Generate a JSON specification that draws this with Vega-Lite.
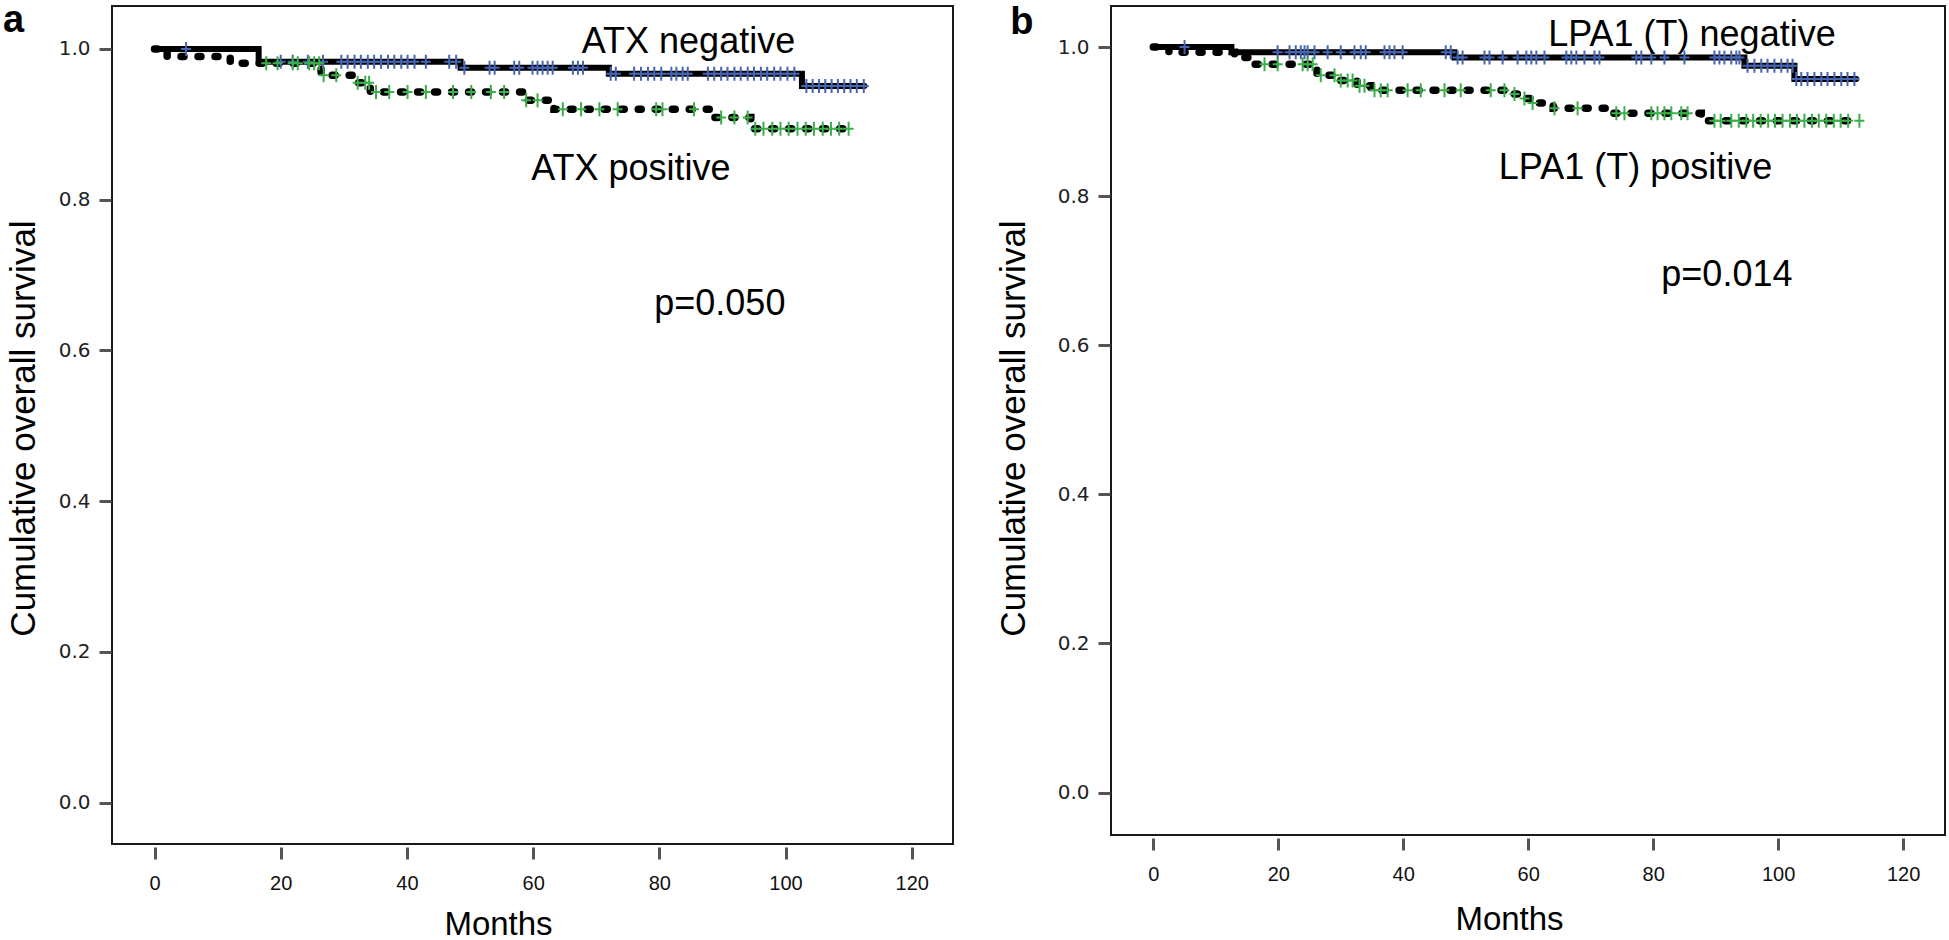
{
  "$schema": "https://vega.github.io/schema/vega-lite/v6.json",
  "autosize": {"type": "pad"},
  "padding": {"left": 2, "top": 0, "right": 0, "bottom": 0},
  "background": "white",
  "bounds": "flush",
  "spacing": 158,
  "config": {
    "view": {"stroke": "#1a1a1a", "strokeWidth": 2},
    "axis": {"grid": false, "domain": false}
  },
  "datasets": {
    "km": [
      {"panel": "a", "group": "negative", "kind": "step", "month": 0, "surv": 1.0},
      {"panel": "a", "group": "negative", "kind": "step", "month": 16.5, "surv": 0.983},
      {"panel": "a", "group": "negative", "kind": "step", "month": 48.5, "surv": 0.975},
      {"panel": "a", "group": "negative", "kind": "step", "month": 72, "surv": 0.967},
      {"panel": "a", "group": "negative", "kind": "step", "month": 102.6, "surv": 0.951},
      {"panel": "a", "group": "negative", "kind": "step", "month": 112.5, "surv": 0.951},
      {"panel": "a", "group": "positive", "kind": "step", "month": 0, "surv": 1.0},
      {"panel": "a", "group": "positive", "kind": "step", "month": 2, "surv": 0.990},
      {"panel": "a", "group": "positive", "kind": "step", "month": 12, "surv": 0.981},
      {"panel": "a", "group": "positive", "kind": "step", "month": 26.4, "surv": 0.965},
      {"panel": "a", "group": "positive", "kind": "step", "month": 32, "surv": 0.955},
      {"panel": "a", "group": "positive", "kind": "step", "month": 34.2, "surv": 0.943},
      {"panel": "a", "group": "positive", "kind": "step", "month": 58.5, "surv": 0.932},
      {"panel": "a", "group": "positive", "kind": "step", "month": 63.3, "surv": 0.920},
      {"panel": "a", "group": "positive", "kind": "step", "month": 88.8, "surv": 0.909},
      {"panel": "a", "group": "positive", "kind": "step", "month": 94.5, "surv": 0.894},
      {"panel": "a", "group": "positive", "kind": "step", "month": 110.5, "surv": 0.894},
      {"panel": "b", "group": "negative", "kind": "step", "month": 0, "surv": 1.0},
      {"panel": "b", "group": "negative", "kind": "step", "month": 12.5, "surv": 0.993},
      {"panel": "b", "group": "negative", "kind": "step", "month": 48.2, "surv": 0.986},
      {"panel": "b", "group": "negative", "kind": "step", "month": 94.6, "surv": 0.975},
      {"panel": "b", "group": "negative", "kind": "step", "month": 102.6, "surv": 0.957},
      {"panel": "b", "group": "negative", "kind": "step", "month": 112.5, "surv": 0.957},
      {"panel": "b", "group": "positive", "kind": "step", "month": 0, "surv": 1.0},
      {"panel": "b", "group": "positive", "kind": "step", "month": 2.5, "surv": 0.993},
      {"panel": "b", "group": "positive", "kind": "step", "month": 13, "surv": 0.986},
      {"panel": "b", "group": "positive", "kind": "step", "month": 15.4, "surv": 0.977},
      {"panel": "b", "group": "positive", "kind": "step", "month": 26.2, "surv": 0.962},
      {"panel": "b", "group": "positive", "kind": "step", "month": 29.7, "surv": 0.955},
      {"panel": "b", "group": "positive", "kind": "step", "month": 32.6, "surv": 0.948},
      {"panel": "b", "group": "positive", "kind": "step", "month": 34.8, "surv": 0.942},
      {"panel": "b", "group": "positive", "kind": "step", "month": 57, "surv": 0.937},
      {"panel": "b", "group": "positive", "kind": "step", "month": 59.2, "surv": 0.931},
      {"panel": "b", "group": "positive", "kind": "step", "month": 60.3, "surv": 0.925},
      {"panel": "b", "group": "positive", "kind": "step", "month": 64, "surv": 0.918},
      {"panel": "b", "group": "positive", "kind": "step", "month": 72.7, "surv": 0.911},
      {"panel": "b", "group": "positive", "kind": "step", "month": 87.7, "surv": 0.901},
      {"panel": "b", "group": "positive", "kind": "step", "month": 113, "surv": 0.901},

      {"panel": "a", "group": "negative", "kind": "censor", "month": 5.0, "surv": 1.0},
      {"panel": "a", "group": "negative", "kind": "censor", "month": 20.0, "surv": 0.983},
      {"panel": "a", "group": "negative", "kind": "censor", "month": 21.9, "surv": 0.983},
      {"panel": "a", "group": "negative", "kind": "censor", "month": 24.3, "surv": 0.983},
      {"panel": "a", "group": "negative", "kind": "censor", "month": 26.7, "surv": 0.983},
      {"panel": "a", "group": "negative", "kind": "censor", "month": 29.6, "surv": 0.983},
      {"panel": "a", "group": "negative", "kind": "censor", "month": 30.6, "surv": 0.983},
      {"panel": "a", "group": "negative", "kind": "censor", "month": 31.7, "surv": 0.983},
      {"panel": "a", "group": "negative", "kind": "censor", "month": 32.7, "surv": 0.983},
      {"panel": "a", "group": "negative", "kind": "censor", "month": 33.8, "surv": 0.983},
      {"panel": "a", "group": "negative", "kind": "censor", "month": 34.8, "surv": 0.983},
      {"panel": "a", "group": "negative", "kind": "censor", "month": 35.9, "surv": 0.983},
      {"panel": "a", "group": "negative", "kind": "censor", "month": 37.0, "surv": 0.983},
      {"panel": "a", "group": "negative", "kind": "censor", "month": 38.0, "surv": 0.983},
      {"panel": "a", "group": "negative", "kind": "censor", "month": 39.1, "surv": 0.983},
      {"panel": "a", "group": "negative", "kind": "censor", "month": 40.1, "surv": 0.983},
      {"panel": "a", "group": "negative", "kind": "censor", "month": 41.2, "surv": 0.983},
      {"panel": "a", "group": "negative", "kind": "censor", "month": 43.0, "surv": 0.983},
      {"panel": "a", "group": "negative", "kind": "censor", "month": 46.7, "surv": 0.983},
      {"panel": "a", "group": "negative", "kind": "censor", "month": 47.8, "surv": 0.983},
      {"panel": "a", "group": "negative", "kind": "censor", "month": 49.1, "surv": 0.975},
      {"panel": "a", "group": "negative", "kind": "censor", "month": 53.1, "surv": 0.975},
      {"panel": "a", "group": "negative", "kind": "censor", "month": 53.9, "surv": 0.975},
      {"panel": "a", "group": "negative", "kind": "censor", "month": 57.0, "surv": 0.975},
      {"panel": "a", "group": "negative", "kind": "censor", "month": 57.8, "surv": 0.975},
      {"panel": "a", "group": "negative", "kind": "censor", "month": 59.9, "surv": 0.975},
      {"panel": "a", "group": "negative", "kind": "censor", "month": 60.7, "surv": 0.975},
      {"panel": "a", "group": "negative", "kind": "censor", "month": 61.5, "surv": 0.975},
      {"panel": "a", "group": "negative", "kind": "censor", "month": 62.3, "surv": 0.975},
      {"panel": "a", "group": "negative", "kind": "censor", "month": 63.1, "surv": 0.975},
      {"panel": "a", "group": "negative", "kind": "censor", "month": 66.3, "surv": 0.975},
      {"panel": "a", "group": "negative", "kind": "censor", "month": 67.1, "surv": 0.975},
      {"panel": "a", "group": "negative", "kind": "censor", "month": 67.9, "surv": 0.975},
      {"panel": "a", "group": "negative", "kind": "censor", "month": 72.3, "surv": 0.967},
      {"panel": "a", "group": "negative", "kind": "censor", "month": 73.1, "surv": 0.967},
      {"panel": "a", "group": "negative", "kind": "censor", "month": 76.0, "surv": 0.967},
      {"panel": "a", "group": "negative", "kind": "censor", "month": 77.1, "surv": 0.967},
      {"panel": "a", "group": "negative", "kind": "censor", "month": 78.2, "surv": 0.967},
      {"panel": "a", "group": "negative", "kind": "censor", "month": 79.2, "surv": 0.967},
      {"panel": "a", "group": "negative", "kind": "censor", "month": 80.3, "surv": 0.967},
      {"panel": "a", "group": "negative", "kind": "censor", "month": 81.9, "surv": 0.967},
      {"panel": "a", "group": "negative", "kind": "censor", "month": 82.7, "surv": 0.967},
      {"panel": "a", "group": "negative", "kind": "censor", "month": 83.7, "surv": 0.967},
      {"panel": "a", "group": "negative", "kind": "censor", "month": 84.5, "surv": 0.967},
      {"panel": "a", "group": "negative", "kind": "censor", "month": 87.7, "surv": 0.967},
      {"panel": "a", "group": "negative", "kind": "censor", "month": 88.7, "surv": 0.967},
      {"panel": "a", "group": "negative", "kind": "censor", "month": 89.8, "surv": 0.967},
      {"panel": "a", "group": "negative", "kind": "censor", "month": 90.8, "surv": 0.967},
      {"panel": "a", "group": "negative", "kind": "censor", "month": 91.9, "surv": 0.967},
      {"panel": "a", "group": "negative", "kind": "censor", "month": 92.9, "surv": 0.967},
      {"panel": "a", "group": "negative", "kind": "censor", "month": 94.0, "surv": 0.967},
      {"panel": "a", "group": "negative", "kind": "censor", "month": 95.0, "surv": 0.967},
      {"panel": "a", "group": "negative", "kind": "censor", "month": 96.1, "surv": 0.967},
      {"panel": "a", "group": "negative", "kind": "censor", "month": 97.1, "surv": 0.967},
      {"panel": "a", "group": "negative", "kind": "censor", "month": 98.2, "surv": 0.967},
      {"panel": "a", "group": "negative", "kind": "censor", "month": 99.2, "surv": 0.967},
      {"panel": "a", "group": "negative", "kind": "censor", "month": 100.3, "surv": 0.967},
      {"panel": "a", "group": "negative", "kind": "censor", "month": 101.4, "surv": 0.967},
      {"panel": "a", "group": "negative", "kind": "censor", "month": 103.3, "surv": 0.951},
      {"panel": "a", "group": "negative", "kind": "censor", "month": 104.3, "surv": 0.951},
      {"panel": "a", "group": "negative", "kind": "censor", "month": 105.3, "surv": 0.951},
      {"panel": "a", "group": "negative", "kind": "censor", "month": 106.3, "surv": 0.951},
      {"panel": "a", "group": "negative", "kind": "censor", "month": 107.3, "surv": 0.951},
      {"panel": "a", "group": "negative", "kind": "censor", "month": 108.3, "surv": 0.951},
      {"panel": "a", "group": "negative", "kind": "censor", "month": 109.3, "surv": 0.951},
      {"panel": "a", "group": "negative", "kind": "censor", "month": 110.3, "surv": 0.951},
      {"panel": "a", "group": "negative", "kind": "censor", "month": 111.3, "surv": 0.951},
      {"panel": "a", "group": "negative", "kind": "censor", "month": 112.4, "surv": 0.951},

      {"panel": "a", "group": "positive", "kind": "censor", "month": 17.7, "surv": 0.981},
      {"panel": "a", "group": "positive", "kind": "censor", "month": 19.5, "surv": 0.981},
      {"panel": "a", "group": "positive", "kind": "censor", "month": 21.9, "surv": 0.981},
      {"panel": "a", "group": "positive", "kind": "censor", "month": 22.7, "surv": 0.981},
      {"panel": "a", "group": "positive", "kind": "censor", "month": 24.5, "surv": 0.981},
      {"panel": "a", "group": "positive", "kind": "censor", "month": 25.3, "surv": 0.981},
      {"panel": "a", "group": "positive", "kind": "censor", "month": 26.1, "surv": 0.981},
      {"panel": "a", "group": "positive", "kind": "censor", "month": 26.8, "surv": 0.965},
      {"panel": "a", "group": "positive", "kind": "censor", "month": 28.8, "surv": 0.965},
      {"panel": "a", "group": "positive", "kind": "censor", "month": 32.2, "surv": 0.955},
      {"panel": "a", "group": "positive", "kind": "censor", "month": 33.4, "surv": 0.955},
      {"panel": "a", "group": "positive", "kind": "censor", "month": 34.0, "surv": 0.955},
      {"panel": "a", "group": "positive", "kind": "censor", "month": 35.1, "surv": 0.943},
      {"panel": "a", "group": "positive", "kind": "censor", "month": 37.2, "surv": 0.943},
      {"panel": "a", "group": "positive", "kind": "censor", "month": 40.1, "surv": 0.943},
      {"panel": "a", "group": "positive", "kind": "censor", "month": 43.0, "surv": 0.943},
      {"panel": "a", "group": "positive", "kind": "censor", "month": 47.3, "surv": 0.943},
      {"panel": "a", "group": "positive", "kind": "censor", "month": 50.2, "surv": 0.943},
      {"panel": "a", "group": "positive", "kind": "censor", "month": 53.3, "surv": 0.943},
      {"panel": "a", "group": "positive", "kind": "censor", "month": 55.4, "surv": 0.943},
      {"panel": "a", "group": "positive", "kind": "censor", "month": 58.9, "surv": 0.932},
      {"panel": "a", "group": "positive", "kind": "censor", "month": 60.7, "surv": 0.932},
      {"panel": "a", "group": "positive", "kind": "censor", "month": 64.7, "surv": 0.920},
      {"panel": "a", "group": "positive", "kind": "censor", "month": 67.6, "surv": 0.920},
      {"panel": "a", "group": "positive", "kind": "censor", "month": 70.5, "surv": 0.920},
      {"panel": "a", "group": "positive", "kind": "censor", "month": 73.4, "surv": 0.920},
      {"panel": "a", "group": "positive", "kind": "censor", "month": 79.5, "surv": 0.920},
      {"panel": "a", "group": "positive", "kind": "censor", "month": 80.5, "surv": 0.920},
      {"panel": "a", "group": "positive", "kind": "censor", "month": 85.5, "surv": 0.920},
      {"panel": "a", "group": "positive", "kind": "censor", "month": 89.8, "surv": 0.909},
      {"panel": "a", "group": "positive", "kind": "censor", "month": 91.9, "surv": 0.909},
      {"panel": "a", "group": "positive", "kind": "censor", "month": 94.0, "surv": 0.909},
      {"panel": "a", "group": "positive", "kind": "censor", "month": 95.2, "surv": 0.894},
      {"panel": "a", "group": "positive", "kind": "censor", "month": 96.5, "surv": 0.894},
      {"panel": "a", "group": "positive", "kind": "censor", "month": 97.9, "surv": 0.894},
      {"panel": "a", "group": "positive", "kind": "censor", "month": 99.2, "surv": 0.894},
      {"panel": "a", "group": "positive", "kind": "censor", "month": 100.5, "surv": 0.894},
      {"panel": "a", "group": "positive", "kind": "censor", "month": 101.9, "surv": 0.894},
      {"panel": "a", "group": "positive", "kind": "censor", "month": 103.2, "surv": 0.894},
      {"panel": "a", "group": "positive", "kind": "censor", "month": 104.5, "surv": 0.894},
      {"panel": "a", "group": "positive", "kind": "censor", "month": 105.9, "surv": 0.894},
      {"panel": "a", "group": "positive", "kind": "censor", "month": 107.2, "surv": 0.894},
      {"panel": "a", "group": "positive", "kind": "censor", "month": 108.5, "surv": 0.894},
      {"panel": "a", "group": "positive", "kind": "censor", "month": 110.0, "surv": 0.894},

      {"panel": "b", "group": "negative", "kind": "censor", "month": 5.0, "surv": 1.0},
      {"panel": "b", "group": "negative", "kind": "censor", "month": 19.9, "surv": 0.993},
      {"panel": "b", "group": "negative", "kind": "censor", "month": 21.8, "surv": 0.993},
      {"panel": "b", "group": "negative", "kind": "censor", "month": 22.8, "surv": 0.993},
      {"panel": "b", "group": "negative", "kind": "censor", "month": 23.6, "surv": 0.993},
      {"panel": "b", "group": "negative", "kind": "censor", "month": 24.2, "surv": 0.993},
      {"panel": "b", "group": "negative", "kind": "censor", "month": 24.7, "surv": 0.993},
      {"panel": "b", "group": "negative", "kind": "censor", "month": 25.8, "surv": 0.993},
      {"panel": "b", "group": "negative", "kind": "censor", "month": 27.9, "surv": 0.993},
      {"panel": "b", "group": "negative", "kind": "censor", "month": 30.0, "surv": 0.993},
      {"panel": "b", "group": "negative", "kind": "censor", "month": 32.2, "surv": 0.993},
      {"panel": "b", "group": "negative", "kind": "censor", "month": 33.2, "surv": 0.993},
      {"panel": "b", "group": "negative", "kind": "censor", "month": 34.0, "surv": 0.993},
      {"panel": "b", "group": "negative", "kind": "censor", "month": 37.0, "surv": 0.993},
      {"panel": "b", "group": "negative", "kind": "censor", "month": 37.8, "surv": 0.993},
      {"panel": "b", "group": "negative", "kind": "censor", "month": 38.6, "surv": 0.993},
      {"panel": "b", "group": "negative", "kind": "censor", "month": 39.9, "surv": 0.993},
      {"panel": "b", "group": "negative", "kind": "censor", "month": 46.8, "surv": 0.993},
      {"panel": "b", "group": "negative", "kind": "censor", "month": 47.6, "surv": 0.993},
      {"panel": "b", "group": "negative", "kind": "censor", "month": 48.7, "surv": 0.986},
      {"panel": "b", "group": "negative", "kind": "censor", "month": 49.5, "surv": 0.986},
      {"panel": "b", "group": "negative", "kind": "censor", "month": 53.0, "surv": 0.986},
      {"panel": "b", "group": "negative", "kind": "censor", "month": 53.8, "surv": 0.986},
      {"panel": "b", "group": "negative", "kind": "censor", "month": 55.9, "surv": 0.986},
      {"panel": "b", "group": "negative", "kind": "censor", "month": 58.3, "surv": 0.986},
      {"panel": "b", "group": "negative", "kind": "censor", "month": 59.7, "surv": 0.986},
      {"panel": "b", "group": "negative", "kind": "censor", "month": 60.5, "surv": 0.986},
      {"panel": "b", "group": "negative", "kind": "censor", "month": 61.3, "surv": 0.986},
      {"panel": "b", "group": "negative", "kind": "censor", "month": 62.6, "surv": 0.986},
      {"panel": "b", "group": "negative", "kind": "censor", "month": 66.1, "surv": 0.986},
      {"panel": "b", "group": "negative", "kind": "censor", "month": 66.9, "surv": 0.986},
      {"panel": "b", "group": "negative", "kind": "censor", "month": 67.7, "surv": 0.986},
      {"panel": "b", "group": "negative", "kind": "censor", "month": 69.0, "surv": 0.986},
      {"panel": "b", "group": "negative", "kind": "censor", "month": 70.6, "surv": 0.986},
      {"panel": "b", "group": "negative", "kind": "censor", "month": 71.4, "surv": 0.986},
      {"panel": "b", "group": "negative", "kind": "censor", "month": 77.3, "surv": 0.986},
      {"panel": "b", "group": "negative", "kind": "censor", "month": 78.1, "surv": 0.986},
      {"panel": "b", "group": "negative", "kind": "censor", "month": 79.7, "surv": 0.986},
      {"panel": "b", "group": "negative", "kind": "censor", "month": 81.8, "surv": 0.986},
      {"panel": "b", "group": "negative", "kind": "censor", "month": 85.0, "surv": 0.986},
      {"panel": "b", "group": "negative", "kind": "censor", "month": 89.8, "surv": 0.986},
      {"panel": "b", "group": "negative", "kind": "censor", "month": 90.6, "surv": 0.986},
      {"panel": "b", "group": "negative", "kind": "censor", "month": 91.4, "surv": 0.986},
      {"panel": "b", "group": "negative", "kind": "censor", "month": 92.5, "surv": 0.986},
      {"panel": "b", "group": "negative", "kind": "censor", "month": 93.3, "surv": 0.986},
      {"panel": "b", "group": "negative", "kind": "censor", "month": 93.8, "surv": 0.986},
      {"panel": "b", "group": "negative", "kind": "censor", "month": 95.1, "surv": 0.975},
      {"panel": "b", "group": "negative", "kind": "censor", "month": 96.2, "surv": 0.975},
      {"panel": "b", "group": "negative", "kind": "censor", "month": 97.3, "surv": 0.975},
      {"panel": "b", "group": "negative", "kind": "censor", "month": 98.3, "surv": 0.975},
      {"panel": "b", "group": "negative", "kind": "censor", "month": 99.4, "surv": 0.975},
      {"panel": "b", "group": "negative", "kind": "censor", "month": 100.5, "surv": 0.975},
      {"panel": "b", "group": "negative", "kind": "censor", "month": 101.5, "surv": 0.975},
      {"panel": "b", "group": "negative", "kind": "censor", "month": 102.3, "surv": 0.975},
      {"panel": "b", "group": "negative", "kind": "censor", "month": 102.9, "surv": 0.957},
      {"panel": "b", "group": "negative", "kind": "censor", "month": 103.7, "surv": 0.957},
      {"panel": "b", "group": "negative", "kind": "censor", "month": 104.7, "surv": 0.957},
      {"panel": "b", "group": "negative", "kind": "censor", "month": 105.8, "surv": 0.957},
      {"panel": "b", "group": "negative", "kind": "censor", "month": 106.9, "surv": 0.957},
      {"panel": "b", "group": "negative", "kind": "censor", "month": 107.9, "surv": 0.957},
      {"panel": "b", "group": "negative", "kind": "censor", "month": 109.0, "surv": 0.957},
      {"panel": "b", "group": "negative", "kind": "censor", "month": 110.1, "surv": 0.957},
      {"panel": "b", "group": "negative", "kind": "censor", "month": 111.1, "surv": 0.957},
      {"panel": "b", "group": "negative", "kind": "censor", "month": 112.2, "surv": 0.957},

      {"panel": "b", "group": "positive", "kind": "censor", "month": 17.8, "surv": 0.977},
      {"panel": "b", "group": "positive", "kind": "censor", "month": 19.9, "surv": 0.977},
      {"panel": "b", "group": "positive", "kind": "censor", "month": 23.9, "surv": 0.977},
      {"panel": "b", "group": "positive", "kind": "censor", "month": 24.7, "surv": 0.977},
      {"panel": "b", "group": "positive", "kind": "censor", "month": 25.5, "surv": 0.977},
      {"panel": "b", "group": "positive", "kind": "censor", "month": 26.8, "surv": 0.962},
      {"panel": "b", "group": "positive", "kind": "censor", "month": 29.0, "surv": 0.962},
      {"panel": "b", "group": "positive", "kind": "censor", "month": 30.0, "surv": 0.955},
      {"panel": "b", "group": "positive", "kind": "censor", "month": 31.1, "surv": 0.955},
      {"panel": "b", "group": "positive", "kind": "censor", "month": 31.9, "surv": 0.955},
      {"panel": "b", "group": "positive", "kind": "censor", "month": 33.0, "surv": 0.948},
      {"panel": "b", "group": "positive", "kind": "censor", "month": 33.8, "surv": 0.948},
      {"panel": "b", "group": "positive", "kind": "censor", "month": 35.4, "surv": 0.942},
      {"panel": "b", "group": "positive", "kind": "censor", "month": 36.4, "surv": 0.942},
      {"panel": "b", "group": "positive", "kind": "censor", "month": 37.5, "surv": 0.942},
      {"panel": "b", "group": "positive", "kind": "censor", "month": 40.7, "surv": 0.942},
      {"panel": "b", "group": "positive", "kind": "censor", "month": 42.8, "surv": 0.942},
      {"panel": "b", "group": "positive", "kind": "censor", "month": 46.6, "surv": 0.942},
      {"panel": "b", "group": "positive", "kind": "censor", "month": 49.2, "surv": 0.942},
      {"panel": "b", "group": "positive", "kind": "censor", "month": 54.0, "surv": 0.942},
      {"panel": "b", "group": "positive", "kind": "censor", "month": 56.2, "surv": 0.942},
      {"panel": "b", "group": "positive", "kind": "censor", "month": 57.8, "surv": 0.937},
      {"panel": "b", "group": "positive", "kind": "censor", "month": 59.4, "surv": 0.931},
      {"panel": "b", "group": "positive", "kind": "censor", "month": 60.7, "surv": 0.925},
      {"panel": "b", "group": "positive", "kind": "censor", "month": 64.2, "surv": 0.918},
      {"panel": "b", "group": "positive", "kind": "censor", "month": 67.9, "surv": 0.918},
      {"panel": "b", "group": "positive", "kind": "censor", "month": 74.1, "surv": 0.911},
      {"panel": "b", "group": "positive", "kind": "censor", "month": 75.4, "surv": 0.911},
      {"panel": "b", "group": "positive", "kind": "censor", "month": 79.7, "surv": 0.911},
      {"panel": "b", "group": "positive", "kind": "censor", "month": 80.7, "surv": 0.911},
      {"panel": "b", "group": "positive", "kind": "censor", "month": 81.8, "surv": 0.911},
      {"panel": "b", "group": "positive", "kind": "censor", "month": 82.9, "surv": 0.911},
      {"panel": "b", "group": "positive", "kind": "censor", "month": 84.5, "surv": 0.911},
      {"panel": "b", "group": "positive", "kind": "censor", "month": 85.5, "surv": 0.911},
      {"panel": "b", "group": "positive", "kind": "censor", "month": 89.8, "surv": 0.901},
      {"panel": "b", "group": "positive", "kind": "censor", "month": 90.8, "surv": 0.901},
      {"panel": "b", "group": "positive", "kind": "censor", "month": 92.5, "surv": 0.901},
      {"panel": "b", "group": "positive", "kind": "censor", "month": 93.7, "surv": 0.901},
      {"panel": "b", "group": "positive", "kind": "censor", "month": 94.9, "surv": 0.901},
      {"panel": "b", "group": "positive", "kind": "censor", "month": 96.0, "surv": 0.901},
      {"panel": "b", "group": "positive", "kind": "censor", "month": 97.2, "surv": 0.901},
      {"panel": "b", "group": "positive", "kind": "censor", "month": 98.4, "surv": 0.901},
      {"panel": "b", "group": "positive", "kind": "censor", "month": 99.5, "surv": 0.901},
      {"panel": "b", "group": "positive", "kind": "censor", "month": 100.7, "surv": 0.901},
      {"panel": "b", "group": "positive", "kind": "censor", "month": 101.9, "surv": 0.901},
      {"panel": "b", "group": "positive", "kind": "censor", "month": 103.0, "surv": 0.901},
      {"panel": "b", "group": "positive", "kind": "censor", "month": 104.2, "surv": 0.901},
      {"panel": "b", "group": "positive", "kind": "censor", "month": 105.4, "surv": 0.901},
      {"panel": "b", "group": "positive", "kind": "censor", "month": 106.5, "surv": 0.901},
      {"panel": "b", "group": "positive", "kind": "censor", "month": 107.7, "surv": 0.901},
      {"panel": "b", "group": "positive", "kind": "censor", "month": 108.9, "surv": 0.901},
      {"panel": "b", "group": "positive", "kind": "censor", "month": 110.0, "surv": 0.901},
      {"panel": "b", "group": "positive", "kind": "censor", "month": 111.2, "surv": 0.901},
      {"panel": "b", "group": "positive", "kind": "censor", "month": 113.0, "surv": 0.901}
    ],
    "notes": [
      {"panel": "a", "label": "ATX negative", "month": 67.7, "surv": 0.995},
      {"panel": "a", "label": "ATX positive", "month": 59.7, "surv": 0.826},
      {"panel": "a", "label": "p=0.050", "month": 79.2, "surv": 0.647},
      {"panel": "b", "label": "LPA1 (T) negative", "month": 63.2, "surv": 1.002},
      {"panel": "b", "label": "LPA1 (T) positive", "month": 55.3, "surv": 0.823},
      {"panel": "b", "label": "p=0.014", "month": 81.3, "surv": 0.679}
    ],
    "letters": [
      {"panel": "a", "label": "a", "month": -24.0, "surv": 1.023},
      {"panel": "b", "label": "b", "month": -22.9, "surv": 1.017}
    ]
  },
  "hconcat": [
    {
      "width": 841,
      "height": 838,
      "layer": [
        {
          "data": {"name": "km"},
          "transform": [{"filter": "datum.panel === 'a' && datum.kind === 'step'"}],
          "mark": {"type": "line", "interpolate": "step-after", "color": "black", "strokeCap": "round"},
          "encoding": {
            "x": {"field": "month", "type": "quantitative", "scale": {"domain": [-6.74, 126.54], "nice": false, "zero": false},
              "axis": {"values": [0, 20, 40, 60, 80, 100, 120], "title": "Months", "titleX": 386, "titleY": 87, "titleBaseline": "alphabetic", "titleAlign": "center", "titleFont": "Liberation Sans", "titleFontSize": 33, "titleFontWeight": "normal", "titleColor": "black", "labelFont": "Liberation Sans", "labelFontSize": 20, "labelColor": "#111", "labelPadding": 14, "labelFlush": false, "labelOverlap": false, "tickSize": 12, "tickWidth": 3, "tickColor": "#555", "offset": 3, "domain": false, "grid": false}},
            "y": {"field": "surv", "type": "quantitative", "scale": {"domain": [-0.055, 1.057], "nice": false, "zero": false},
              "axis": {"values": [0, 0.2, 0.4, 0.6, 0.8, 1.0], "format": ".1f", "title": "Cumulative overall survival", "titleX": -88, "titleY": 422, "titleAngle": -90, "titleBaseline": "middle", "titleAlign": "center", "titleFont": "Liberation Sans", "titleFontSize": 35, "titleFontWeight": "normal", "titleColor": "black", "labelFont": "DejaVu Sans", "labelFontSize": 20, "labelColor": "#222", "labelPadding": 9, "labelFlush": false, "labelOverlap": false, "tickSize": 12, "tickWidth": 3, "tickColor": "#555", "offset": 1, "domain": false, "grid": false}},
            "detail": {"field": "group", "type": "nominal"},
            "strokeDash": {"field": "group", "type": "nominal", "scale": {"domain": ["negative", "positive"], "range": [[1, 0], [3, 14]]}, "legend": null},
            "strokeWidth": {"field": "group", "type": "nominal", "scale": {"domain": ["negative", "positive"], "range": [6, 7.5]}, "legend": null}
          }
        },
        {
          "data": {"name": "km"},
          "transform": [{"filter": "datum.panel === 'a' && datum.kind === 'censor'"}],
          "mark": {"type": "point", "shape": "M-1,0H1M0,-1.4V1.4", "filled": false, "size": 100, "strokeWidth": 2, "opacity": 1},
          "encoding": {
            "x": {"field": "month", "type": "quantitative"},
            "y": {"field": "surv", "type": "quantitative"},
            "color": {"field": "group", "type": "nominal", "scale": {"domain": ["negative", "positive"], "range": ["#4565b5", "#3aaf4a"]}, "legend": null}
          }
        },
        {
          "data": {"name": "notes"},
          "transform": [{"filter": "datum.panel === 'a'"}],
          "mark": {"type": "text", "align": "left", "baseline": "alphabetic", "font": "Liberation Sans", "fontSize": 36, "color": "black"},
          "encoding": {
            "x": {"field": "month", "type": "quantitative"},
            "y": {"field": "surv", "type": "quantitative"},
            "text": {"field": "label"}
          }
        },
        {
          "data": {"name": "letters"},
          "transform": [{"filter": "datum.panel === 'a'"}],
          "mark": {"type": "text", "align": "left", "baseline": "alphabetic", "font": "Liberation Sans", "fontSize": 38, "fontWeight": "bold", "color": "black"},
          "encoding": {
            "x": {"field": "month", "type": "quantitative"},
            "y": {"field": "surv", "type": "quantitative"},
            "text": {"field": "label"}
          }
        }
      ]
    },
    {
      "width": 834,
      "height": 829,
      "layer": [
        {
          "data": {"name": "km"},
          "transform": [{"filter": "datum.panel === 'b' && datum.kind === 'step'"}],
          "mark": {"type": "line", "interpolate": "step-after", "color": "black", "strokeCap": "round"},
          "encoding": {
            "x": {"field": "month", "type": "quantitative", "scale": {"domain": [-6.77, 126.7], "nice": false, "zero": false},
              "axis": {"values": [0, 20, 40, 60, 80, 100, 120], "title": "Months", "titleX": 398, "titleY": 91, "titleBaseline": "alphabetic", "titleAlign": "center", "titleFont": "Liberation Sans", "titleFontSize": 33, "titleFontWeight": "normal", "titleColor": "black", "labelFont": "Liberation Sans", "labelFontSize": 20, "labelColor": "#111", "labelPadding": 14, "labelFlush": false, "labelOverlap": false, "tickSize": 12, "tickWidth": 3, "tickColor": "#555", "offset": 3, "domain": false, "grid": false}},
            "y": {"field": "surv", "type": "quantitative", "scale": {"domain": [-0.057, 1.055], "nice": false, "zero": false},
              "axis": {"values": [0, 0.2, 0.4, 0.6, 0.8, 1.0], "format": ".1f", "title": "Cumulative overall survival", "titleX": -97, "titleY": 422, "titleAngle": -90, "titleBaseline": "middle", "titleAlign": "center", "titleFont": "Liberation Sans", "titleFontSize": 35, "titleFontWeight": "normal", "titleColor": "black", "labelFont": "DejaVu Sans", "labelFontSize": 20, "labelColor": "#222", "labelPadding": 9, "labelFlush": false, "labelOverlap": false, "tickSize": 12, "tickWidth": 3, "tickColor": "#555", "offset": 1, "domain": false, "grid": false}},
            "detail": {"field": "group", "type": "nominal"},
            "strokeDash": {"field": "group", "type": "nominal", "scale": {"domain": ["negative", "positive"], "range": [[1, 0], [3, 14]]}, "legend": null},
            "strokeWidth": {"field": "group", "type": "nominal", "scale": {"domain": ["negative", "positive"], "range": [6, 7.5]}, "legend": null}
          }
        },
        {
          "data": {"name": "km"},
          "transform": [{"filter": "datum.panel === 'b' && datum.kind === 'censor'"}],
          "mark": {"type": "point", "shape": "M-1,0H1M0,-1.4V1.4", "filled": false, "size": 100, "strokeWidth": 2, "opacity": 1},
          "encoding": {
            "x": {"field": "month", "type": "quantitative"},
            "y": {"field": "surv", "type": "quantitative"},
            "color": {"field": "group", "type": "nominal", "scale": {"domain": ["negative", "positive"], "range": ["#4565b5", "#3aaf4a"]}, "legend": null}
          }
        },
        {
          "data": {"name": "notes"},
          "transform": [{"filter": "datum.panel === 'b'"}],
          "mark": {"type": "text", "align": "left", "baseline": "alphabetic", "font": "Liberation Sans", "fontSize": 36, "color": "black"},
          "encoding": {
            "x": {"field": "month", "type": "quantitative"},
            "y": {"field": "surv", "type": "quantitative"},
            "text": {"field": "label"}
          }
        },
        {
          "data": {"name": "letters"},
          "transform": [{"filter": "datum.panel === 'b'"}],
          "mark": {"type": "text", "align": "left", "baseline": "alphabetic", "font": "Liberation Sans", "fontSize": 38, "fontWeight": "bold", "color": "black"},
          "encoding": {
            "x": {"field": "month", "type": "quantitative"},
            "y": {"field": "surv", "type": "quantitative"},
            "text": {"field": "label"}
          }
        }
      ]
    }
  ]
}
